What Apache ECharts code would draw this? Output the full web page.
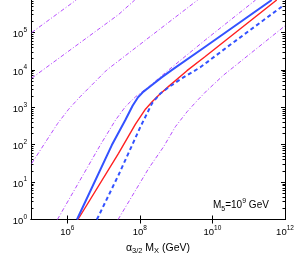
<!DOCTYPE html>
<html><head><meta charset="utf-8">
<script src="https://cdn.jsdelivr.net/npm/echarts@6/dist/echarts.min.js"></script>
<style>html,body{margin:0;padding:0;background:#fff}#c{width:294px;height:253px}</style>
</head><body><div id="c"></div>
<script>
// All values are log10 exponents (decades): x = log10(alpha_3/2 M_X / GeV), y = log10(T_rh / GeV)
const xTickLabels = [6, 8, 10, 12];
const yTickLabels = [0, 1, 2, 3, 4, 5];

const blueSolidX = [6.267, 7.228, 7.6, 7.8, 7.95, 8.1, 8.3, 8.6, 8.887, 9.802, 11.635];
const blueSolidY = [0, 1.99, 2.66, 3.04, 3.27, 3.42, 3.57, 3.8, 4.0, 4.62, 5.87];

const redX = [6.294, 7.412, 7.879, 8.154, 8.338, 8.519, 8.794, 9.299, 9.802, 11.772];
const redY = [0, 1.77, 2.55, 2.95, 3.15, 3.32, 3.56, 3.98, 4.36, 5.87];

const blueDashX = [6.816, 7.412, 7.788, 8.016, 8.2, 8.338, 8.566, 8.841, 9.2, 9.665, 10.5, 11.909];
const blueDashY = [0, 1.19, 1.99, 2.48, 2.84, 3.11, 3.37, 3.57, 3.8, 4.07, 4.68, 5.69];

const mag1X = [5.02, 6.246];
const mag1Y = [5.0, 5.87];
const mag2X = [5.02, 7.412, 7.86];
const mag2Y = [3.78, 5.48, 5.87];
const mag3X = [5.02, 5.407, 5.736, 6.038, 6.35, 6.679, 7.09, 9.594];
const mag3Y = [1.50, 2.08, 2.57, 2.95, 3.28, 3.60, 4.0, 5.87];
const mag4X = [5.728, 6.909, 7.33, 7.604, 7.879, 8.245, 8.794, 9.802, 11.19];
const mag4Y = [0, 1.99, 2.66, 3.02, 3.28, 3.55, 4.0, 4.8, 5.87];
const mag5X = [7.40, 8.245, 8.657, 8.978, 9.3, 9.6, 9.85, 10.305, 12.0];
const mag5Y = [0, 1.37, 1.95, 2.48, 2.88, 3.2, 3.45, 3.86, 5.18];

const X_MIN = 5, X_MAX = 12, Y_MIN = 0, Y_MAX = 5.87;

const pair = (xs, ys) => xs.map((x, i) => [x, ys[i]]);
const FONT = 'Liberation Sans';
const supRich = {
  b: { fontSize: 9.5, fontFamily: FONT, color: '#000', lineHeight: 14, verticalAlign: 'bottom' },
  s: { fontSize: 6.5, fontFamily: FONT, color: '#000', lineHeight: 14, verticalAlign: 'bottom', padding: [0, 0, 6, 0] }
};
const supFmt = v => '{b|10}{s|' + Math.round(v) + '}';

const yMinor = [];
for (let n = 0; n < 6; n++) for (let k = 2; k <= 9; k++) { const v = n + Math.log10(k); if (v < Y_MAX) yMinor.push(v); }

const axisLine = { show: true, lineStyle: { color: '#000', width: 1 } };
function xAx(pos, labels) {
  return {
    type: 'value', min: X_MIN, max: X_MAX, position: pos,
    axisLine, splitLine: { show: false },
    axisTick: { show: true, inside: true, length: 4, customValues: [6, 8, 10], lineStyle: { color: '#000' } },
    axisLabel: labels ? { show: true, customValues: xTickLabels, formatter: supFmt, rich: supRich, margin: 4 } : { show: false }
  };
}
function yAx(pos, minor, labels, extra) {
  return Object.assign({
    type: 'value', min: Y_MIN, max: Y_MAX, position: pos,
    axisLine, splitLine: { show: false },
    axisTick: { show: true, inside: true, length: minor ? 2.5 : 4, customValues: minor ? yMinor : yTickLabels, lineStyle: { color: '#000' } },
    axisLabel: labels ? { show: true, customValues: yTickLabels, formatter: supFmt, rich: supRich, margin: 4 } : { show: false }
  }, extra || {});
}

const magStyle = { color: '#b84dff', width: 1, type: [4, 2, 1, 2] };
function line(data, style, z) {
  return { type: 'line', data, showSymbol: false, symbol: 'none', lineStyle: style, z: z || 2, animation: false };
}

const chart = echarts.init(document.getElementById('c'), null, { renderer: 'canvas' });
chart.setOption({
  animation: false,
  backgroundColor: '#fff',
  grid: { left: 31, right: 9, top: 0, bottom: 33.5, containLabel: false, outerBoundsMode: 'none' },
  xAxis: [
    Object.assign(xAx('bottom', true), {
      name: '{n|α}{sub|3/2}{n| M}{sub|X}{n| (GeV)}', nameLocation: 'middle', nameGap: 18,
      nameTextStyle: { rich: {
        n: { fontSize: 10.5, fontFamily: FONT, color: '#000', lineHeight: 14, verticalAlign: 'top' },
        sub: { fontSize: 7.5, fontFamily: FONT, color: '#000', lineHeight: 14, verticalAlign: 'top', padding: [5, 0, 0, 0] }
      } }
    }),
    xAx('top', false)
  ],
  yAxis: [
    Object.assign(yAx('left', false, true), {
      name: '{n|T}{sub|rh}{n| (GeV)}', nameLocation: 'middle', nameGap: 23,
      nameTextStyle: { rich: {
        n: { fontSize: 10.5, fontFamily: FONT, color: '#000', lineHeight: 14, verticalAlign: 'top' },
        sub: { fontSize: 7.5, fontFamily: FONT, color: '#000', lineHeight: 14, verticalAlign: 'top', padding: [5, 0, 0, 0] }
      } }
    }),
    yAx('left', true, false),
    yAx('right', false, false),
    yAx('right', true, false)
  ],
  series: [
    line(pair(mag1X, mag1Y), magStyle),
    line(pair(mag2X, mag2Y), magStyle),
    line(pair(mag3X, mag3Y), magStyle),
    line(pair(mag4X, mag4Y), magStyle),
    line(pair(mag5X, mag5Y), magStyle),
    line(pair(redX, redY), { color: '#ff2020', width: 1.4 }, 3),
    line(pair(blueDashX, blueDashY), { color: '#3352ff', width: 2, type: [4, 3] }, 4),
    line(pair(blueSolidX, blueSolidY), { color: '#3352ff', width: 2 }, 5)
  ],
  graphic: [{
    type: 'text', left: 213, top: 198, z: 10,
    style: {
      text: '{n|M}{sub|5}{n|=10}{sup|9}{n| GeV}',
      rich: {
        n: { fontSize: 10, fontFamily: FONT, fill: '#000', lineHeight: 14, verticalAlign: 'bottom' },
        sub: { fontSize: 7, fontFamily: FONT, fill: '#000', lineHeight: 14, verticalAlign: 'bottom', padding: [0, 0, -3, 0] },
        sup: { fontSize: 7, fontFamily: FONT, fill: '#000', lineHeight: 14, verticalAlign: 'bottom', padding: [0, 0, 5, 0] }
      }
    }
  }]
});
</script></body></html>
